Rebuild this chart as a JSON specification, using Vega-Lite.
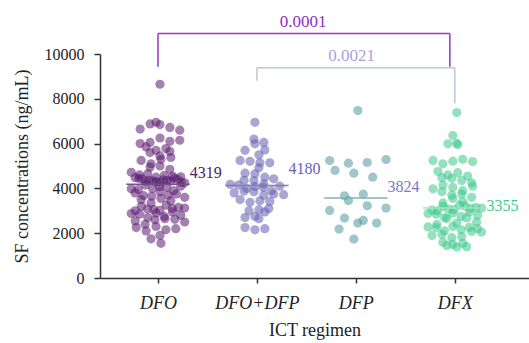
{
  "$schema": "https://vega.github.io/schema/vega-lite/v6.json",
  "width": 429,
  "height": 224,
  "autosize": {"type": "none"},
  "padding": {"left": 100, "top": 54, "right": 0, "bottom": 65},
  "config": {"font": "Liberation Serif", "view": {"stroke": null}},
  "datasets": {
    "pts": [
      {"g":"DFO","v":8650},
      {"g":"DFO","v":6950},{"g":"DFO","v":6880},{"g":"DFO","v":6850},{"g":"DFO","v":6720},{"g":"DFO","v":6650},{"g":"DFO","v":6600},
      {"g":"DFO","v":6250},{"g":"DFO","v":6150},{"g":"DFO","v":6100},{"g":"DFO","v":6050},{"g":"DFO","v":6000},
      {"g":"DFO","v":5850},{"g":"DFO","v":5780},{"g":"DFO","v":5700},{"g":"DFO","v":5650},{"g":"DFO","v":5600},
      {"g":"DFO","v":5450},{"g":"DFO","v":5380},{"g":"DFO","v":5300},{"g":"DFO","v":5250},
      {"g":"DFO","v":5100},{"g":"DFO","v":5000},{"g":"DFO","v":4950},{"g":"DFO","v":4850},
      {"g":"DFO","v":4720},{"g":"DFO","v":4650},{"g":"DFO","v":4600},{"g":"DFO","v":4580},{"g":"DFO","v":4550},{"g":"DFO","v":4520},{"g":"DFO","v":4500},
      {"g":"DFO","v":4480},{"g":"DFO","v":4450},{"g":"DFO","v":4420},{"g":"DFO","v":4400},{"g":"DFO","v":4380},{"g":"DFO","v":4350},{"g":"DFO","v":4330},{"g":"DFO","v":4319},{"g":"DFO","v":4300},{"g":"DFO","v":4280},{"g":"DFO","v":4250},
      {"g":"DFO","v":4460},{"g":"DFO","v":4360},{"g":"DFO","v":4320},{"g":"DFO","v":4270},
      {"g":"DFO","v":4150},{"g":"DFO","v":4100},{"g":"DFO","v":4080},{"g":"DFO","v":4050},{"g":"DFO","v":4000},{"g":"DFO","v":3980},{"g":"DFO","v":3950},{"g":"DFO","v":3900},
      {"g":"DFO","v":3850},{"g":"DFO","v":3800},{"g":"DFO","v":3750},{"g":"DFO","v":3700},{"g":"DFO","v":3680},{"g":"DFO","v":3650},{"g":"DFO","v":3600},{"g":"DFO","v":3550},{"g":"DFO","v":3500},{"g":"DFO","v":3450},
      {"g":"DFO","v":3350},{"g":"DFO","v":3250},{"g":"DFO","v":3200},{"g":"DFO","v":3150},{"g":"DFO","v":3120},{"g":"DFO","v":3100},{"g":"DFO","v":3080},{"g":"DFO","v":3050},{"g":"DFO","v":3020},{"g":"DFO","v":3000},{"g":"DFO","v":2950},{"g":"DFO","v":2900},
      {"g":"DFO","v":2880},{"g":"DFO","v":2850},{"g":"DFO","v":2800},{"g":"DFO","v":2750},{"g":"DFO","v":2700},{"g":"DFO","v":2650},{"g":"DFO","v":2620},{"g":"DFO","v":2600},{"g":"DFO","v":2550},{"g":"DFO","v":2500},
      {"g":"DFO","v":2400},{"g":"DFO","v":2300},{"g":"DFO","v":2250},{"g":"DFO","v":2200},{"g":"DFO","v":2150},{"g":"DFO","v":2100},
      {"g":"DFO","v":1900},{"g":"DFO","v":1750},{"g":"DFO","v":1550},

      {"g":"DFO+DFP","v":6950},{"g":"DFO+DFP","v":6200},{"g":"DFO+DFP","v":6050},{"g":"DFO+DFP","v":5990},
      {"g":"DFO+DFP","v":5700},{"g":"DFO+DFP","v":5720},{"g":"DFO+DFP","v":5500},
      {"g":"DFO+DFP","v":5150},{"g":"DFO+DFP","v":5210},{"g":"DFO+DFP","v":5140},{"g":"DFO+DFP","v":5250},{"g":"DFO+DFP","v":4920},
      {"g":"DFO+DFP","v":4650},{"g":"DFO+DFP","v":4680},{"g":"DFO+DFP","v":4430},{"g":"DFO+DFP","v":4350},{"g":"DFO+DFP","v":4500},{"g":"DFO+DFP","v":4360},
      {"g":"DFO+DFP","v":4200},{"g":"DFO+DFP","v":4150},{"g":"DFO+DFP","v":4100},{"g":"DFO+DFP","v":4050},{"g":"DFO+DFP","v":4000},{"g":"DFO+DFP","v":4180},{"g":"DFO+DFP","v":4080},
      {"g":"DFO+DFP","v":3900},{"g":"DFO+DFP","v":3850},{"g":"DFO+DFP","v":3800},{"g":"DFO+DFP","v":3750},{"g":"DFO+DFP","v":3700},{"g":"DFO+DFP","v":3880},{"g":"DFO+DFP","v":3720},
      {"g":"DFO+DFP","v":3500},{"g":"DFO+DFP","v":3420},{"g":"DFO+DFP","v":3450},{"g":"DFO+DFP","v":3380},
      {"g":"DFO+DFP","v":3100},{"g":"DFO+DFP","v":3000},{"g":"DFO+DFP","v":2950},{"g":"DFO+DFP","v":3050},{"g":"DFO+DFP","v":2700},{"g":"DFO+DFP","v":2650},{"g":"DFO+DFP","v":2750},
      {"g":"DFO+DFP","v":2200},{"g":"DFO+DFP","v":2250},{"g":"DFO+DFP","v":2150},

      {"g":"DFP","v":7473},
      {"g":"DFP","v":5245},{"g":"DFP","v":5290},{"g":"DFP","v":5125},{"g":"DFP","v":5156},
      {"g":"DFP","v":4800},{"g":"DFP","v":4680},{"g":"DFP","v":4500},
      {"g":"DFP","v":3743},{"g":"DFP","v":3672},
      {"g":"DFP","v":3463},{"g":"DFP","v":3017},{"g":"DFP","v":3120},{"g":"DFP","v":3226},
      {"g":"DFP","v":2571},{"g":"DFP","v":2451},{"g":"DFP","v":2455},{"g":"DFP","v":2674},
      {"g":"DFP","v":2184},{"g":"DFP","v":1738},

      {"g":"DFX","v":7384},{"g":"DFX","v":6360},{"g":"DFX","v":5990},{"g":"DFX","v":5950},{"g":"DFX","v":6020},
      {"g":"DFX","v":5300},{"g":"DFX","v":5250},{"g":"DFX","v":5200},{"g":"DFX","v":5215},{"g":"DFX","v":5100},
      {"g":"DFX","v":4750},{"g":"DFX","v":4700},{"g":"DFX","v":4600},
      {"g":"DFX","v":4550},{"g":"DFX","v":4480},{"g":"DFX","v":4450},
      {"g":"DFX","v":4350},{"g":"DFX","v":4250},{"g":"DFX","v":4150},{"g":"DFX","v":4100},{"g":"DFX","v":4050},{"g":"DFX","v":3980},
      {"g":"DFX","v":3900},{"g":"DFX","v":3850},{"g":"DFX","v":3700},{"g":"DFX","v":3750},{"g":"DFX","v":3600},{"g":"DFX","v":3550},
      {"g":"DFX","v":3400},{"g":"DFX","v":3350},
      {"g":"DFX","v":3250},{"g":"DFX","v":3200},{"g":"DFX","v":3150},{"g":"DFX","v":3100},{"g":"DFX","v":3080},{"g":"DFX","v":3050},{"g":"DFX","v":3000},{"g":"DFX","v":3220},{"g":"DFX","v":3120},{"g":"DFX","v":3030},
      {"g":"DFX","v":2950},{"g":"DFX","v":2900},
      {"g":"DFX","v":2880},{"g":"DFX","v":2850},{"g":"DFX","v":2800},{"g":"DFX","v":2750},{"g":"DFX","v":2700},{"g":"DFX","v":2680},{"g":"DFX","v":2660},
      {"g":"DFX","v":2500},{"g":"DFX","v":2450},{"g":"DFX","v":2400},
      {"g":"DFX","v":2300},{"g":"DFX","v":2280},{"g":"DFX","v":2250},{"g":"DFX","v":2200},{"g":"DFX","v":2150},{"g":"DFX","v":2100},{"g":"DFX","v":2080},{"g":"DFX","v":2050},{"g":"DFX","v":2260},
      {"g":"DFX","v":1950},{"g":"DFX","v":1900},{"g":"DFX","v":1850},{"g":"DFX","v":1800},
      {"g":"DFX","v":1600},{"g":"DFX","v":1550},{"g":"DFX","v":1500},{"g":"DFX","v":1450},{"g":"DFX","v":1400},{"g":"DFX","v":1380}
    ],
    "med": [
      {"g":"DFO","label":"4319","line":4180,"ly":4666},
      {"g":"DFO+DFP","label":"4180","line":4130,"ly":4844},
      {"g":"DFP","label":"3824","line":3570,"ly":4041},
      {"g":"DFX","label":"3355","line":3120,"ly":3195}
    ],
    "br": [
      {"b":"p1","x":1,"x2":3.95,"y":10918,"y2":10918},
      {"b":"p1","x":1,"x2":1,"y":10918,"y2":9430},
      {"b":"p1","x":3.95,"x2":3.95,"y":10918,"y2":9430},
      {"b":"p2","x":2,"x2":4,"y":9390,"y2":9390},
      {"b":"p2","x":2,"x2":2,"y":9390,"y2":8810},
      {"b":"p2","x":4,"x2":4,"y":9390,"y2":7785}
    ],
    "pv": [
      {"b":"p1","t":"0.0001","x":2.467,"y":11440},
      {"b":"p2","t":"0.0021","x":2.957,"y":9924}
    ]
  },
  "layer": [
    {
      "data": {"name": "pts"},
      "transform": [
        {"calculate": "indexof(['DFO','DFO+DFP','DFP','DFX'], datum.g) + 1", "as": "gi"},
        {"calculate": "datum.g == 'DFP' ? floor(datum.v / 500) : floor(datum.v / 300)", "as": "bin"},
        {"calculate": "(datum.v * 37) % 101", "as": "k"},
        {"joinaggregate": [{"op": "count", "as": "n"}], "groupby": ["g", "bin"]},
        {"window": [{"op": "row_number", "as": "r"}], "sort": [{"field": "k"}], "groupby": ["g", "bin"]},
        {"calculate": "datum.g == 'DFP' ? 0.19 : min(0.1, 0.5 / max(datum.n - 1, 1))", "as": "sp"},
        {"calculate": "datum.gi + (datum.r - (datum.n + 1) / 2) * datum.sp + (datum.bin % 2 == 0 ? 0.02 : -0.02)", "as": "xp"}
      ],
      "mark": {"type": "circle", "size": 85, "opacity": 0.55},
      "encoding": {
        "x": {
          "field": "xp", "type": "quantitative",
          "scale": {"domain": [0.414, 4.75], "nice": false, "zero": false},
          "title": "ICT regimen",
          "axis": {
            "values": [1, 2, 3, 4],
            "labelExpr": "['', 'DFO', 'DFO+DFP', 'DFP', 'DFX'][datum.value]",
            "labelFontStyle": "italic", "labelFontSize": 18, "labelColor": "#222",
            "grid": false, "tickSize": 5, "tickWidth": 1.5, "tickColor": "#333",
            "domainColor": "#333", "domainWidth": 1.5,
            "labelPadding": 11, "titleFontSize": 18, "titleFontWeight": "normal",
            "titleColor": "#222", "titlePadding": 9
          }
        },
        "y": {
          "field": "v", "type": "quantitative",
          "scale": {"domain": [0, 10000], "nice": false},
          "title": "SF concentrations (ng/mL)",
          "axis": {
            "values": [0, 1000, 2000, 3000, 4000, 5000, 6000, 7000, 8000, 9000, 10000],
            "labelExpr": "datum.value % 2000 == 0 ? datum.value : ''",
            "labelFontSize": 16, "labelColor": "#222",
            "grid": false, "tickSize": 6, "tickWidth": 1.5, "tickColor": "#333",
            "domainColor": "#333", "domainWidth": 1.5,
            "labelPadding": 10, "titleFontSize": 18, "titleFontWeight": "normal",
            "titleColor": "#222", "titlePadding": 13
          }
        },
        "color": {
          "field": "g", "type": "nominal",
          "scale": {"domain": ["DFO", "DFO+DFP", "DFP", "DFX"], "range": ["#5a1a70", "#635db1", "#50979f", "#3cc88a"]},
          "legend": null
        }
      }
    },
    {
      "data": {"name": "med"},
      "transform": [
        {"calculate": "indexof(['DFO','DFO+DFP','DFP','DFX'], datum.g) + 1", "as": "gi"},
        {"calculate": "datum.gi - 0.32", "as": "x1"},
        {"calculate": "datum.gi + 0.32", "as": "x2"}
      ],
      "mark": {"type": "rule", "strokeWidth": 1.5},
      "encoding": {
        "x": {"field": "x1", "type": "quantitative", "title": "ICT regimen"},
        "x2": {"field": "x2"},
        "y": {"field": "line", "type": "quantitative", "title": "SF concentrations (ng/mL)"},
        "color": {
          "condition": [
            {"test": "datum.g == 'DFO'", "value": "#6e5486"},
            {"test": "datum.g == 'DFO+DFP'", "value": "#7f7cb2"},
            {"test": "datum.g == 'DFP'", "value": "#7fb0b8"}
          ],
          "value": "#9fe4c6"
        }
      }
    },
    {
      "data": {"name": "med"},
      "transform": [
        {"calculate": "indexof(['DFO','DFO+DFP','DFP','DFX'], datum.g) + 1.32", "as": "lx"}
      ],
      "mark": {"type": "text", "align": "left", "baseline": "middle", "fontSize": 16, "font": "Liberation Serif"},
      "encoding": {
        "x": {"field": "lx", "type": "quantitative", "title": "ICT regimen"},
        "y": {"field": "ly", "type": "quantitative", "title": "SF concentrations (ng/mL)"},
        "text": {"field": "label"},
        "color": {
          "condition": [
            {"test": "datum.g == 'DFO'", "value": "#4a1c5c"},
            {"test": "datum.g == 'DFO+DFP'", "value": "#6a5fb5"},
            {"test": "datum.g == 'DFP'", "value": "#8076c5"}
          ],
          "value": "#46c88c"
        }
      }
    },
    {
      "data": {"name": "br"},
      "mark": {"type": "rule", "strokeWidth": 1.5},
      "encoding": {
        "x": {"field": "x", "type": "quantitative", "title": "ICT regimen"},
        "x2": {"field": "x2"},
        "y": {"field": "y", "type": "quantitative", "title": "SF concentrations (ng/mL)"},
        "y2": {"field": "y2"},
        "color": {"condition": {"test": "datum.b == 'p1'", "value": "#9b35c6"}, "value": "#b7c7dc"}
      }
    },
    {
      "data": {"name": "pv"},
      "mark": {"type": "text", "align": "center", "baseline": "middle", "fontSize": 17, "font": "Liberation Serif"},
      "encoding": {
        "x": {"field": "x", "type": "quantitative", "title": "ICT regimen"},
        "y": {"field": "y", "type": "quantitative", "title": "SF concentrations (ng/mL)"},
        "text": {"field": "t"},
        "color": {"condition": {"test": "datum.b == 'p1'", "value": "#8e30c0"}, "value": "#a89fe0"}
      }
    }
  ]
}
